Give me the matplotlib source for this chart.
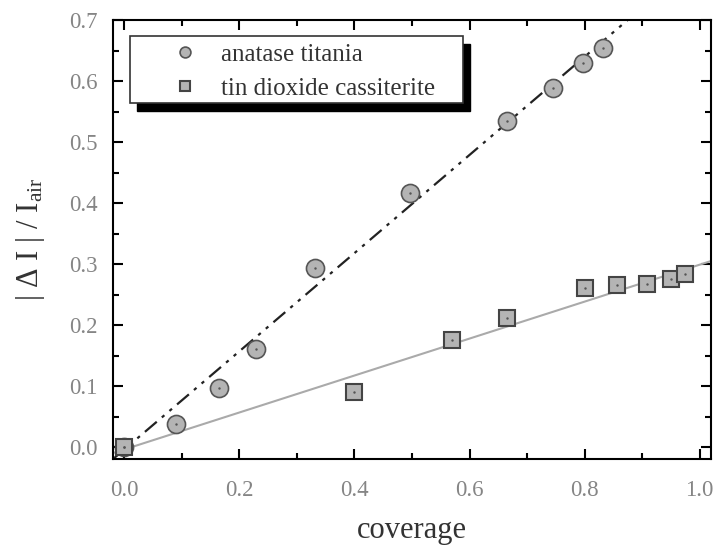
import matplotlib.pyplot as plt
import numpy as np
from matplotlib.patches import Rectangle
from matplotlib.ticker import MultipleLocator

plt.rcParams['font.family'] = ['Liberation Serif', 'DejaVu Serif']
plt.rcParams['mathtext.fontset'] = 'custom'
plt.rcParams['mathtext.rm'] = 'Liberation Serif'
plt.rcParams['mathtext.it'] = 'Liberation Serif:italic'

# anatase titania
ti_x = [0.0, 0.090, 0.165, 0.229, 0.332, 0.497, 0.665, 0.745, 0.797, 0.832]
ti_y = [0.0, 0.037, 0.097, 0.161, 0.293, 0.416, 0.534, 0.589, 0.630, 0.654]
# tin dioxide cassiterite
sn_x = [0.0, 0.400, 0.570, 0.665, 0.800, 0.856, 0.908, 0.951, 0.974]
sn_y = [0.0, 0.090, 0.176, 0.211, 0.260, 0.266, 0.268, 0.275, 0.283]

# linear fits
ti_slope, ti_icpt = 0.805, -0.004
sn_slope, sn_icpt = 0.303, -0.004

fig = plt.figure(figsize=(7.14, 5.46), dpi=100)
ax = fig.add_axes([0.158, 0.159, 0.838, 0.804])

xf = np.array([-0.02, 1.02])
ax.plot(xf, ti_slope * xf + ti_icpt, color='#222222', lw=1.6,
        dashes=(7, 3, 1.5, 3, 1.5, 3), zorder=2)
ax.plot(xf, sn_slope * xf + sn_icpt, color='#aaaaaa', lw=1.5, zorder=2)

ax.plot(ti_x, ti_y, 'o', ms=13, mfc='#b4b4b4', mec='#555555', mew=1.2,
        label='anatase titania', zorder=3)
ax.plot(sn_x, sn_y, 's', ms=11, mfc='#b4b4b4', mec='#444444', mew=1.5,
        label='tin dioxide cassiterite', zorder=3)
ax.plot(ti_x + sn_x, ti_y + sn_y, '.', ms=1.5, color='#555555', zorder=4)

ax.set_xlim(-0.02, 1.02)
ax.set_ylim(-0.02, 0.7)
ax.xaxis.set_major_locator(MultipleLocator(0.2))
ax.xaxis.set_minor_locator(MultipleLocator(0.1))
ax.yaxis.set_major_locator(MultipleLocator(0.1))
ax.yaxis.set_minor_locator(MultipleLocator(0.05))
ax.tick_params(which='both', direction='in', top=True, right=True,
               width=1.5, labelsize=16.5, labelcolor='#858585')
ax.tick_params(axis='x', pad=15)
ax.tick_params(axis='y', pad=11)
ax.tick_params(which='major', length=7)
ax.tick_params(which='minor', length=4)
for s in ax.spines.values():
    s.set_linewidth(1.5)
ax.xaxis.set_major_formatter(plt.FuncFormatter(lambda v, p: f'{v:.1f}'))
ax.yaxis.set_major_formatter(plt.FuncFormatter(lambda v, p: f'{v:.1f}'))

ax.set_xlabel('coverage', fontsize=22, color='#333333', labelpad=11)
ax.set_ylabel(r'| $\Delta$ I | / I$_{\rm air}$', fontsize=22, color='#333333',
              labelpad=16)

# legend box with solid shadow
ax.add_patch(Rectangle((0.040, 0.793), 0.557, 0.153, transform=ax.transAxes,
                       facecolor='black', edgecolor='black', zorder=5))
ax.add_patch(Rectangle((0.028, 0.811), 0.557, 0.153, transform=ax.transAxes,
                       facecolor='white', edgecolor='#333333', lw=1.2, zorder=6))
leg = ax.legend(loc='center left', bbox_to_anchor=(0.085, 0.883), frameon=False,
                fontsize=18, markerscale=0.6, handlelength=0.9,
                handletextpad=1.0, labelspacing=0.45, borderaxespad=0)
leg.set_zorder(7)
for t in leg.get_texts():
    t.set_color('#333333')

fig.savefig('out.png', dpi=100)
